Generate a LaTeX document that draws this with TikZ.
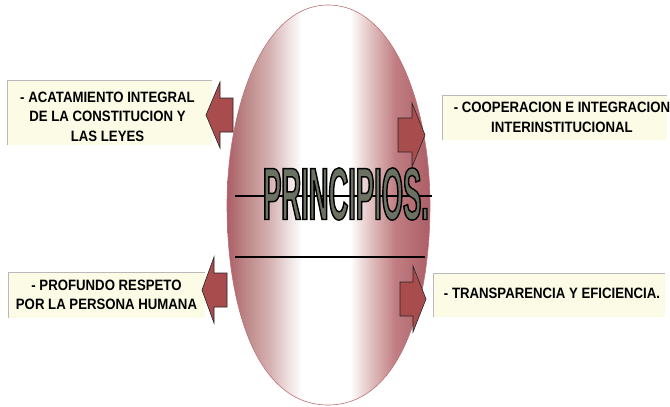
\documentclass[tikz,border=0pt]{standalone}
\usepackage{fontspec}
\usetikzlibrary{positioning}

\newfontfamily\boxfont{Liberation Sans}[FakeStretch=0.88]
\newfontfamily\titlefont{Liberation Sans}[FakeStretch=0.37]

\definecolor{lensedge}{HTML}{AC5E66}
\definecolor{lensbrown}{HTML}{BC8686}
\definecolor{lenspink}{HTML}{D6B2B2}
\definecolor{lenspale}{HTML}{F0E4E4}
\definecolor{lensrose}{HTML}{E2C2C2}
\definecolor{lensred}{HTML}{C07E82}
\definecolor{arrowred}{HTML}{A94C4E}
\definecolor{boxfill}{HTML}{FCFCE6}
\definecolor{titlegray}{HTML}{6B7262}

\pgfdeclarehorizontalshading{lensshade}{100bp}{color(0bp)=(lensedge); color(25bp)=(lensedge); color(29.4bp)=(lensbrown); color(35.6bp)=(lenspink); color(40.5bp)=(lenspale); color(43.5bp)=(white); color(55.3bp)=(white); color(60.2bp)=(lensrose); color(66.4bp)=(lensred); color(75bp)=(lensedge); color(100bp)=(lensedge)}

% outlined title letters: fill and stroke
\newcommand{\outlined}[1]{\special{pdf:literal direct 0 0 0 RG 1.4 w 2 Tr}#1\special{pdf:literal direct 0 Tr}}

\begin{document}
\begin{tikzpicture}[
    x=1pt, y=-1pt,
    principlebox/.style={rectangle,fill=boxfill,inner sep=0pt},
    principle/.style={inner sep=0pt,align=center,
        font=\boxfont\bfseries\fontsize{15}{19.5}\selectfont},
    boxedge/.style={draw=gray!55,line width=0.6pt},
    blockarrow/.style={fill=arrowred,draw=black!85,line width=0.6pt,line join=miter},
    divider/.style={draw=black,line width=1.3pt}
]
\useasboundingbox[fill=white] (0,0) rectangle (670,407);

% Lens
\path[shading=lensshade,draw=lensedge!80!pink,line width=0.6pt]
    (328,5) .. controls (262,5) and (227,110) .. (227,205)
            .. controls (227,310) and (258,405) .. (328,405)
            .. controls (398,405) and (430,310) .. (430,205)
            .. controls (430,110) and (396,5) .. (328,5);

% Dividing lines
\draw[divider] (235,196) -- (432,196);
\draw[divider] (235,257) -- (425,257);

% Title
\node[inner sep=0pt,text=titlegray] (title) at (346,194)
    {\titlefont\bfseries\fontsize{74}{74}\selectfont\outlined{PRINCIPIOS.}};

% Principle boxes
\node[principlebox,minimum width=205pt,minimum height=65pt] (acata) at (109.5,112.5) {};
\node[principlebox,minimum width=225pt,minimum height=45pt] (coop) at (554.5,117.5) {};
\node[principlebox,minimum width=197pt,minimum height=46pt] (respeto) at (106.5,295) {};
\node[principlebox,minimum width=232pt,minimum height=44pt] (transp) at (549,295) {};

\foreach \b in {acata,coop,respeto,transp}
    \draw[boxedge] (\b.south west) -- (\b.north west) -- (\b.north east);

\node[principle,xshift=-2pt,yshift=-4pt] (acatatext) at (acata)
    {- ACATAMIENTO INTEGRAL\\DE LA CONSTITUCION Y\\LAS LEYES};
\node[principle,xshift=7.5pt] (cooptext) at (coop)
    {- COOPERACION E INTEGRACION\\INTERINSTITUCIONAL};
\node[principle] (respetotext) at (respeto)
    {- PROFUNDO RESPETO\\POR LA PERSONA HUMANA};
\node[principle,xshift=3pt,yshift=2pt] (transptext) at (transp)
    {- TRANSPARENCIA Y EFICIENCIA.};

% Block arrows
\draw[blockarrow] (233,98) -- (220,98) -- (220,82) -- (206,115) -- (220,148) -- (220,132) -- (233,132) -- cycle;
\draw[blockarrow] (227,273) -- (214,273) -- (214,257) -- (202,290) -- (214,323) -- (214,307) -- (227,307) -- cycle;
\draw[blockarrow] (398,118) -- (412,118) -- (412,103) -- (425,135) -- (412,167) -- (412,152) -- (398,152) -- cycle;
\draw[blockarrow] (400,282) -- (413,282) -- (413,266) -- (426,299) -- (413,332) -- (413,316) -- (400,316) -- cycle;

\end{tikzpicture}
\end{document}
